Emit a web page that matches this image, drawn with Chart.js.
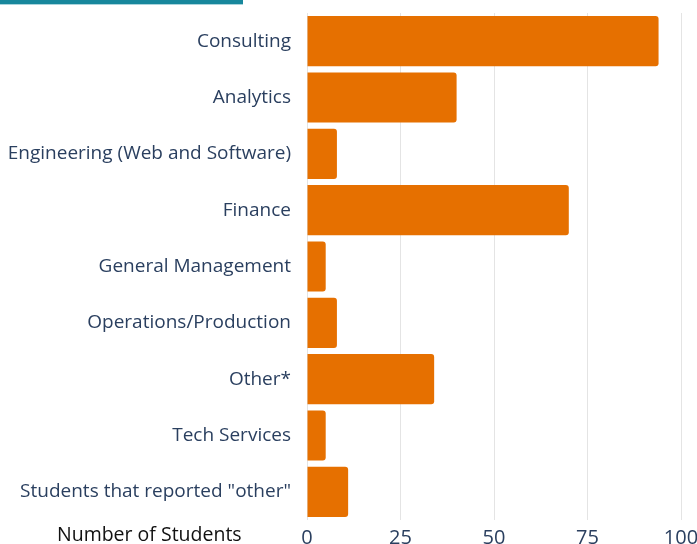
<!DOCTYPE html>
<html>
<head>
<meta charset="utf-8">
<script src="https://cdn.jsdelivr.net/npm/chart.js@4"></script>
<style>
    html, body {
        margin: 0;
        padding: 0;
        width: 697px;
        height: 544px;
        overflow: hidden;
        background: white;
    }
    #wrap {
        position: absolute;
        left: 0;
        top: 0;
        width: 720px;
        height: 570px;
    }
    #topLine {
        position: absolute;
        left: 0;
        top: 0;
        width: 243px;
        height: 4px;
        background: #17879c;
        border-bottom: 1px solid #a9d4dc;
    }
    #axisTitle {
        position: absolute;
        left: 57px;
        top: 520px;
        font-family: "Open Sans", sans-serif;
        font-size: 19.5px;
        color: #111;
        white-space: nowrap;
    }
</style>
</head>
<body>

<div id="wrap">
    <canvas id="myChart" width="720" height="570"></canvas>
</div>
<div id="topLine"></div>
<div id="axisTitle">Number of Students</div>

<script>
let categories = [
    "Consulting",
    "Analytics",
    "Engineering (Web and Software)",
    "Finance",
    "General Management",
    "Operations/Production",
    "Other*",
    "Tech Services",
    "Students that reported \"other\""
];

let students = [94, 40, 8, 70, 5, 8, 34, 5, 11];

let xTicks = [0, 25, 50, 75, 100];

let textColor = "#2a3f5f";

let ctx = document.getElementById("myChart").getContext("2d");

let chart = new Chart(ctx, {
    type: "bar",

    data: {
        labels: categories,
        datasets: [{
            label: "Number of Students",
            data: students,
            backgroundColor: "#e67000",
            borderRadius: 3,
            borderSkipped: "start",
            categoryPercentage: 0.89,
            barPercentage: 1
        }]
    },

    options: {
        indexAxis: "y",
        responsive: false,
        animation: false,
        layout: {
            padding: { top: 13, right: 39, left: 0, bottom: 0 }
        },
        plugins: {
            legend: { display: false },
            tooltip: { enabled: false }
        },
        scales: {
            x: {
                min: 0,
                max: 100,
                afterBuildTicks: function (scale) {
                    scale.ticks = xTicks.map(v => ({ value: v }));
                },
                afterFit: function (scale) {
                    scale.height = 50;
                },
                ticks: {
                    color: textColor,
                    padding: 6,
                    maxRotation: 0,
                    font: { family: "Open Sans", size: 20 }
                },
                grid: {
                    color: "#e4e4e4",
                    drawTicks: false
                },
                border: { display: false }
            },
            y: {
                afterFit: function (scale) {
                    scale.width = 307;
                    scale.paddingTop = 0;
                    scale.paddingBottom = 0;
                },
                ticks: {
                    color: textColor,
                    padding: 8,
                    font: { family: "Open Sans", size: 19 }
                },
                grid: { display: false },
                border: { display: false }
            }
        }
    }
});
</script>
</body>
</html>
